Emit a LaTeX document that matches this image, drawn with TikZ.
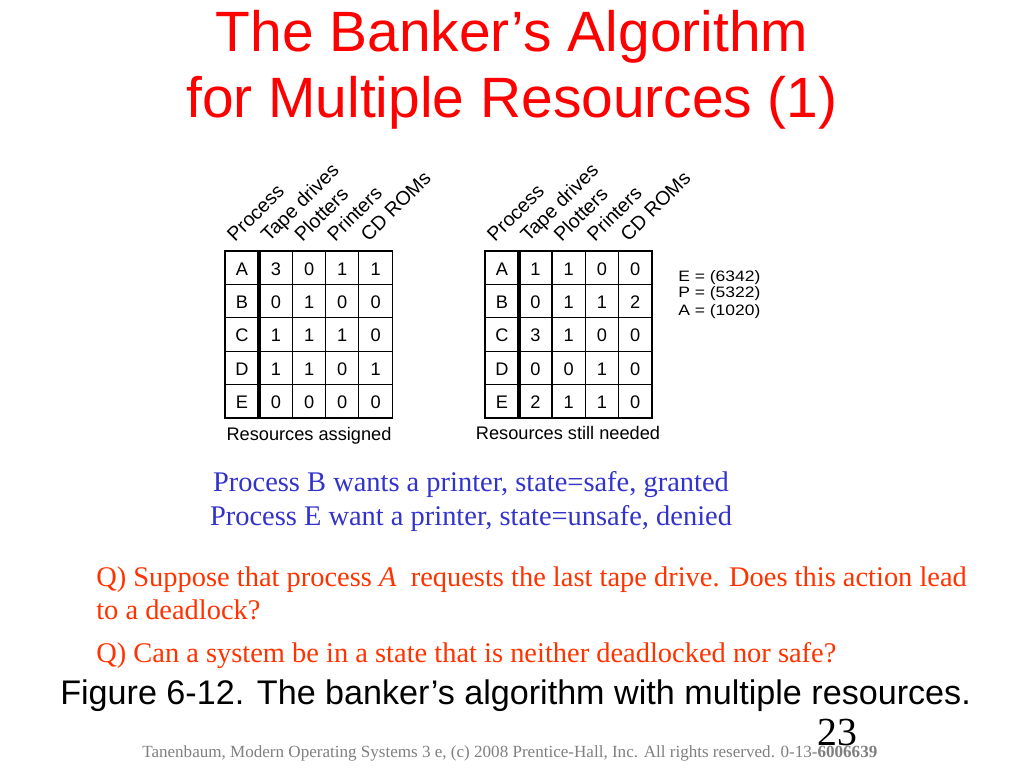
\documentclass[tikz,border=0pt]{standalone}
\usepackage{fontspec}
\usepackage{graphicx}
\setmainfont{Liberation Serif}
\newfontfamily\arialfam{Liberation Sans}
\definecolor{titlered}{RGB}{255,0,0}
\definecolor{qblue}{RGB}{51,51,204}
\definecolor{qorange}{RGB}{255,51,0}
\definecolor{footgray}{RGB}{128,128,128}
\begin{document}
\begin{tikzpicture}[x=0.703125pt,y=-0.703125pt,
  titletext/.style={font=\arialfam\fontsize{40}{48}\selectfont, text=titlered, anchor=base, inner sep=0pt},
  celltext/.style={font=\arialfam\fontsize{12.8}{15}\selectfont, anchor=base, inner sep=0pt},
  hdrtext/.style={font=\arialfam\fontsize{13.8}{16}\selectfont, anchor=base west, rotate=45, inner sep=0pt},
  eqtext/.style={font=\arialfam\fontsize{10.6}{12}\selectfont, anchor=base west, inner sep=0pt},
  bluetext/.style={font=\fontsize{20}{24}\selectfont, text=qblue, anchor=base, inner sep=0pt},
  qtext/.style={font=\fontsize{20}{24}\selectfont, text=qorange, anchor=base west, inner sep=0pt},
  figcap/.style={font=\arialfam\fontsize{24}{28}\selectfont, anchor=base west, inner sep=0pt},
  gridline/.style={line width=0.9pt, black},
  dividerline/.style={line width=3pt, black}
]
\useasboundingbox (0,0) rectangle (1024,768);
\fill[white] (0,0) rectangle (1024,768);

% title
\node[titletext] (t1) at (512,51.5) {The Banker’s Algorithm};
\node[titletext] (t2) at (512,117.5) {for Multiple Resources (1)};

% ---- table 1 grid
\draw[gridline] (225,251) rectangle (392.5,418);
\foreach \yy in {284.4,317.8,351.2,384.6} \draw[gridline] (225,\yy) -- (392.5,\yy);
\foreach \xx in {292.7,325.7,358.7} \draw[gridline] (\xx,251) -- (\xx,418);
\draw[dividerline] (259,251) -- (259,418);

% ---- table 2 grid
\draw[gridline] (485,251) rectangle (652,418);
\foreach \yy in {284.4,317.8,351.2,384.6} \draw[gridline] (485,\yy) -- (652,\yy);
\foreach \xx in {552,585.3,618.7} \draw[gridline] (\xx,251) -- (\xx,418);
\draw[dividerline] (519,251) -- (519,418);

% headers
\foreach \cx/\lab [count=\k] in {242/Process,276/Tape drives,309.3/Plotters,342.2/Printers,375.6/CD ROMs}
  \node[hdrtext] (ha\k) at (\cx-7,243) {\lab};
\foreach \cx/\lab [count=\k] in {502/Process,535.5/Tape drives,568.7/Plotters,602/Printers,635.3/CD ROMs}
  \node[hdrtext] (hb\k) at (\cx-7,243) {\lab};

% table 1 cells
\foreach \p/\a/\b/\c/\d [count=\i] in {A/3/0/1/1,B/0/1/0/0,C/1/1/1/0,D/1/1/0/1,E/0/0/0/0}{
  \pgfmathsetmacro{\yb}{251+33.4*(\i-0.5)+7.5}
  \node[celltext] (ap\i) at (242,\yb) {\p};
  \node[celltext] (aa\i) at (276,\yb) {\a};
  \node[celltext] (ab\i) at (309.3,\yb) {\b};
  \node[celltext] (ac\i) at (342.2,\yb) {\c};
  \node[celltext] (ad\i) at (375.6,\yb) {\d};
}
% table 2 cells
\foreach \p/\a/\b/\c/\d [count=\i] in {A/1/1/0/0,B/0/1/1/2,C/3/1/0/0,D/0/0/1/0,E/2/1/1/0}{
  \pgfmathsetmacro{\yb}{251+33.4*(\i-0.5)+7.5}
  \node[celltext] (bp\i) at (502,\yb) {\p};
  \node[celltext] (ba\i) at (535.5,\yb) {\a};
  \node[celltext] (bb\i) at (568.7,\yb) {\b};
  \node[celltext] (bc\i) at (602,\yb) {\c};
  \node[celltext] (bd\i) at (635.3,\yb) {\d};
}

\node[celltext] (capa) at (309,440) {Resources assigned};
\node[celltext] (capb) at (568,439) {Resources still needed};

\node[eqtext] (eqE) at (678,281) {\scalebox{1.16}[1]{E = (6342)}};
\node[eqtext] (eqP) at (678,298) {\scalebox{1.16}[1]{P = (5322)}};
\node[eqtext] (eqA) at (678,315) {\scalebox{1.16}[1]{A = (1020)}};

% blue lines
\node[bluetext] (b1) at (471,491.7) {Process B wants a printer, state=safe, granted};
\node[bluetext] (b2) at (471,525) {Process E want a printer, state=unsafe, denied};

% questions
\node[qtext] (q1) at (96,586) {Q) Suppose that process \textit{A}\ \ requests the last tape drive. Does this action lead};
\node[qtext] (q2) at (96,619) {to a deadlock?};
\node[qtext] (q3) at (96,662) {Q) Can a system be in a state that is neither deadlocked nor safe?};

\node[figcap] (fc) at (60,704) {Figure 6-12. The banker’s algorithm with multiple resources.};

% footer
\node[anchor=base west, inner sep=0pt, text=footgray, font=\fontsize{12}{14}\selectfont] (foot) at (142,757)
  {\resizebox{516.8pt}{\height}{Tanenbaum, Modern Operating Systems 3 e, (c) 2008 Prentice-Hall, Inc. All rights reserved. 0-13-\textbf{6006639}}};
\node[anchor=base west, inner sep=0pt, font=\fontsize{28}{32}\selectfont] (pg) at (817,745) {23};
\end{tikzpicture}
\end{document}
